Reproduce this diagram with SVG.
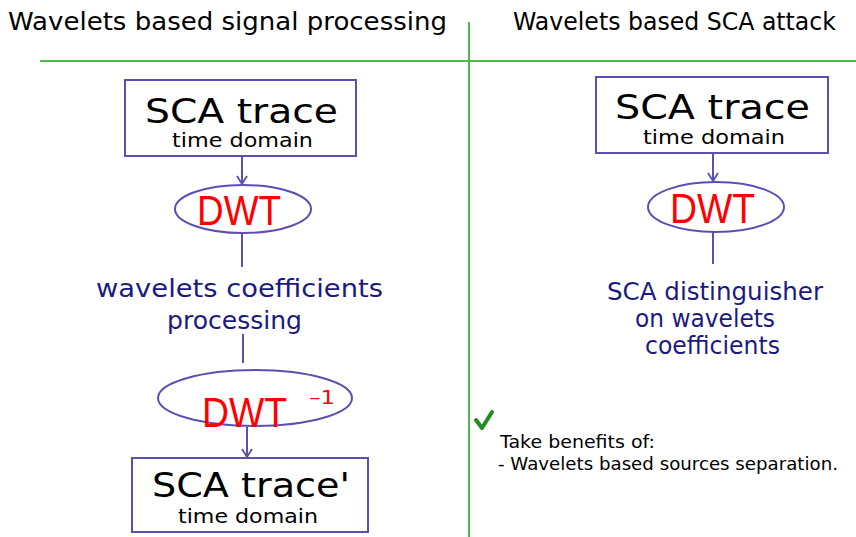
<svg xmlns="http://www.w3.org/2000/svg" width="856" height="537" viewBox="0 0 856 537">
<defs>
<style>
text{font-family:"DejaVu Sans","Liberation Sans",sans-serif;}
.hdr{font-size:25px;fill:#000;}
.big{font-size:34px;fill:#000;}
.sub{font-size:19px;fill:#000;}
.dwt{font-size:42px;fill:#ff0000;font-family:"Liberation Sans",sans-serif;}
.lbl{font-size:25px;fill:#1c1a82;}
.note{font-size:18px;fill:#000;}
.box{fill:#fff;stroke:#5a50b4;stroke-width:2;}
.ell{fill:#fff;stroke:#5a50b4;stroke-width:2;}
.con{stroke:#5a50b4;stroke-width:2;fill:none;}
.sep{stroke:#4cb94c;stroke-width:2;}
</style>
<marker id="arr" viewBox="0 0 10 12" refX="9" refY="6" markerWidth="10" markerHeight="12" markerUnits="userSpaceOnUse" orient="auto">
<path d="M1,1 L9,6 L1,11" fill="none" stroke="#5a50b4" stroke-width="1.8"/>
</marker>
</defs>
<rect width="856" height="537" fill="#fff"/>
<g id="separators">
<line class="sep" x1="40" y1="61" x2="856" y2="61"/>
<line class="sep" x1="469" y1="22" x2="469" y2="537"/>
</g>
<text class="hdr" x="8" y="30" textLength="439" lengthAdjust="spacingAndGlyphs">Wavelets based signal processing</text>
<text class="hdr" x="513" y="30" textLength="323" lengthAdjust="spacingAndGlyphs">Wavelets based SCA attack</text>
<g id="connectors">
<line class="con" x1="242" y1="157" x2="242" y2="184" marker-end="url(#arr)"/>
<line class="con" x1="242" y1="233" x2="242" y2="267"/>
<line class="con" x1="243" y1="334" x2="243" y2="363"/>
<line class="con" x1="247" y1="427" x2="247" y2="457" marker-end="url(#arr)"/>
<line class="con" x1="713" y1="153" x2="713" y2="181" marker-end="url(#arr)"/>
<line class="con" x1="713" y1="232" x2="713" y2="264"/>
</g>
<g id="trace-left">
<rect class="box" x="125" y="80" width="231" height="76"/>
<text class="big" x="145" y="123" textLength="193" lengthAdjust="spacingAndGlyphs">SCA trace</text>
<text class="sub" x="172" y="147" textLength="141" lengthAdjust="spacingAndGlyphs">time domain</text>
</g>
<g id="dwt-left">
<ellipse class="ell" cx="243" cy="209" rx="68" ry="24"/>
<text class="dwt" x="197" y="225" textLength="84" lengthAdjust="spacingAndGlyphs">DWT</text>
</g>
<g id="coef-processing">
<text class="lbl" x="96" y="297" textLength="287" lengthAdjust="spacingAndGlyphs">wavelets coefficients</text>
<text class="lbl" x="167" y="329" textLength="135" lengthAdjust="spacingAndGlyphs">processing</text>
</g>
<g id="idwt">
<ellipse class="ell" cx="255" cy="398" rx="97" ry="28"/>
<text class="dwt" x="202" y="427" textLength="85" lengthAdjust="spacingAndGlyphs">DWT</text>
<text x="309" y="404" font-family="Liberation Sans,sans-serif" font-size="20" fill="#ff0000" textLength="26" lengthAdjust="spacingAndGlyphs">–1</text>
</g>
<g id="trace-out">
<rect class="box" x="132" y="458" width="236" height="74"/>
<text class="big" x="152" y="497" textLength="198" lengthAdjust="spacingAndGlyphs">SCA trace'</text>
<text class="sub" x="178" y="523" textLength="140" lengthAdjust="spacingAndGlyphs">time domain</text>
</g>
<g id="trace-right">
<rect class="box" x="596" y="77" width="232" height="76"/>
<text class="big" x="615" y="119" textLength="195" lengthAdjust="spacingAndGlyphs">SCA trace</text>
<text class="sub" x="643" y="144" textLength="142" lengthAdjust="spacingAndGlyphs">time domain</text>
</g>
<g id="dwt-right">
<ellipse class="ell" cx="716" cy="207" rx="68" ry="25"/>
<text class="dwt" x="670" y="223" textLength="85" lengthAdjust="spacingAndGlyphs">DWT</text>
</g>
<g id="distinguisher">
<text class="lbl" x="607" y="300" textLength="216" lengthAdjust="spacingAndGlyphs">SCA distinguisher</text>
<text class="lbl" x="635" y="327" textLength="140" lengthAdjust="spacingAndGlyphs">on wavelets</text>
<text class="lbl" x="645" y="354" textLength="135" lengthAdjust="spacingAndGlyphs">coefficients</text>
</g>
<g id="benefits">
<path d="M476,420 L482,428 L492,412" fill="none" stroke="#218c21" stroke-width="4" stroke-linecap="round" stroke-linejoin="round"/>
<text class="note" x="500" y="448" textLength="155" lengthAdjust="spacingAndGlyphs">Take benefits of:</text>
<text class="note" x="498" y="470" textLength="340" lengthAdjust="spacingAndGlyphs">- Wavelets based sources separation.</text>
</g>
</svg>
